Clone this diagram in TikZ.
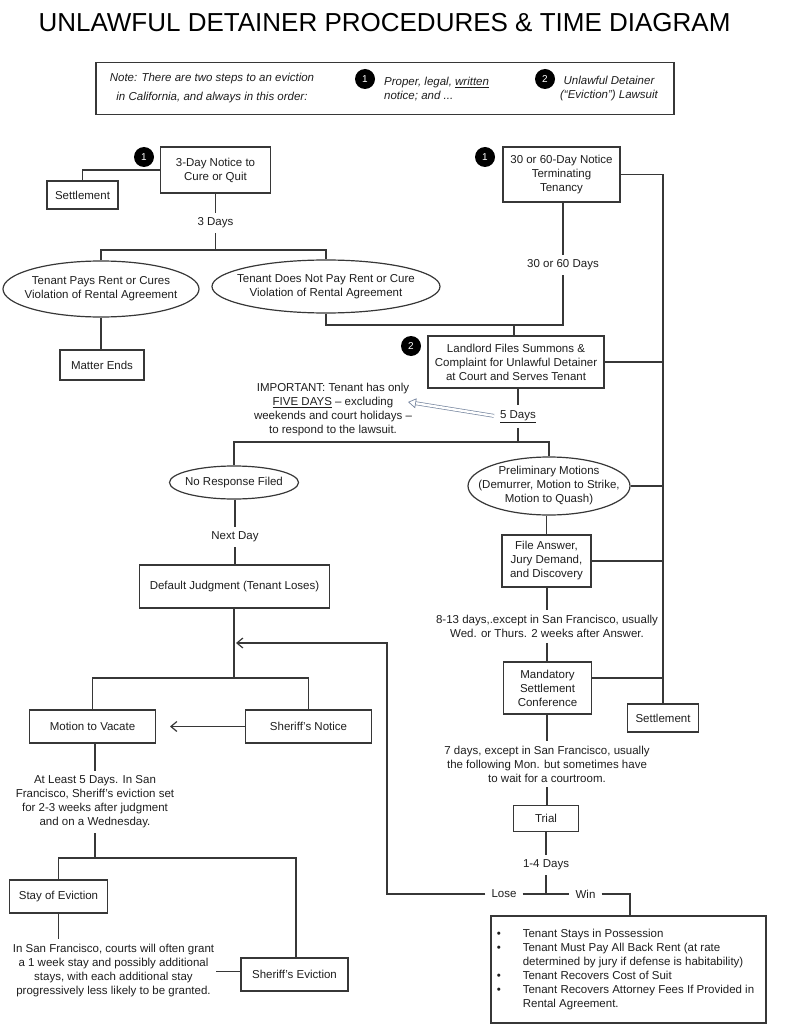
\documentclass[tikz,border=0pt]{standalone}
\usepackage{fontspec}
\setmainfont{Liberation Sans}
\usetikzlibrary{shapes.geometric,arrows.meta}
\definecolor{lin}{RGB}{55,55,55}
\definecolor{txt}{RGB}{30,30,30}
\definecolor{hol}{RGB}{120,135,160}
\newcommand{\itm}{\hspace*{-3pt}\textbullet}
\tikzset{
  base/.style={font=\fontsize{11.5}{14}\selectfont,text=txt,align=center,inner sep=0pt},
  rec/.style={base,draw=lin,line width=1.2pt},
  oval/.style={base,draw=lin,line width=1.2pt,ellipse,inner xsep=-40pt,inner ysep=-20pt},
  lab/.style={base,inner xsep=2pt,inner ysep=5pt,yshift=-1pt},
  num/.style={circle,fill=black,text=white,inner sep=0pt,minimum size=20pt,font=\fontsize{10}{12}\selectfont},
  note/.style={base,font=\fontsize{11.5}{14}\selectfont\itshape,yshift=-1pt},
  lin/.style={draw=lin,line width=1.2pt},
  barb/.style={lin,-{Straight Barb[length=6pt,width=10pt]}}
}
\begin{document}
\begin{tikzpicture}[x=1pt,y=-1pt]
\useasboundingbox (0,0) rectangle (786,1024);

\node[font=\fontsize{26}{30}\selectfont,text=black,inner sep=0pt] (title) at (384.5,23) {UNLAWFUL DETAINER PROCEDURES \& TIME DIAGRAM};

\node[rec,minimum width=578pt,minimum height=52pt] (notebox) at (385,88.5) {};
\node[note] (note1) at (212,78) {Note: There are two steps to an eviction};
\node[note] (note2) at (212,97) {in California, and always in this order:};
\node[num] (key1) at (365,79) {1};
\node[note,align=left,anchor=west] (keytext1) at (384,88) {Proper, legal, \underline{written}\\notice; and ...};
\node[num] (key2) at (545,79) {2};
\node[note] (keytext2) at (609,88) {Unlawful Detainer\\(“Eviction”) Lawsuit};

\node[rec,minimum width=110pt,minimum height=46pt] (threeday) at (215.5,170) {3-Day Notice to\\Cure or Quit};
\node[num] (one1) at (144,157) {1};
\node[rec,minimum width=71pt,minimum height=28pt] (settle1) at (82.5,195) {Settlement};
\node[lab] (threedays) at (215.5,222) {3 Days};
\coordinate (split1) at (215.5,250);
\node[oval,minimum width=196pt,minimum height=56pt] (pays) at (101,289) {Tenant Pays Rent or Cures\\Violation of Rental Agreement};
\node[oval,minimum width=228pt,minimum height=53pt] (notpay) at (326,286.5) {Tenant Does Not Pay Rent or Cure\\Violation of Rental Agreement};
\node[rec,minimum width=84pt,minimum height=30pt] (ends) at (102,365) {Matter Ends};

\node[rec,minimum width=117pt,minimum height=55pt] (thirty) at (561.5,174.5) {30 or 60-Day Notice\\Terminating\\Tenancy};
\node[num] (one2) at (485,157) {1};
\node[lab] (thirtydays) at (563,264) {30 or 60 Days};
\coordinate (join1) at (514,325);

\node[rec,minimum width=176pt,minimum height=52pt] (files) at (516,362) {Landlord Files Summons \&\\Complaint for Unlawful Detainer\\at Court and Serves Tenant};
\node[num] (two) at (411,346) {2};
\node[lab] (fivedays) at (518,415.5) {\underline{5 Days}};
\node[base,yshift=-1pt] (important) at (333,409) {IMPORTANT: Tenant has only\\\underline{FIVE DAYS} – excluding\\weekends and court holidays –\\to respond to the lawsuit.};
\coordinate (tip) at (408,402);
\coordinate (split2) at (518,442);

\node[oval,minimum width=129pt,minimum height=33pt] (noresp) at (234,482.5) {No Response Filed};
\node[oval,minimum width=162pt,minimum height=58pt] (prelim) at (549,486) {Preliminary Motions\\(Demurrer, Motion to Strike,\\Motion to Quash)};
\node[lab] (nextday) at (235,536) {Next Day};
\node[rec,minimum width=190pt,minimum height=43pt] (default) at (234.5,586.5) {Default Judgment (Tenant Loses)};
\node[rec,minimum width=89pt,minimum height=52pt] (answer) at (546.5,561) {File Answer,\\Jury Demand,\\and Discovery};
\node[lab] (eight) at (547,625.5) {8-13 days,.except in San Francisco, usually\\Wed. or Thurs. 2 weeks after Answer.};
\node[rec,minimum width=88pt,minimum height=52pt] (msc) at (547.5,688) {Mandatory\\Settlement\\Conference};
\node[rec,minimum width=71pt,minimum height=28pt] (settle2) at (663,718) {Settlement};
\node[lab] (seven) at (547,763) {7 days, except in San Francisco, usually\\the following Mon. but sometimes have\\to wait for a courtroom.};
\node[rec,minimum width=65pt,minimum height=26pt] (trial) at (546,818.5) {Trial};
\node[lab] (oneto) at (546,864) {1-4 Days};
\coordinate (split3) at (546,893);
\node[lab,inner xsep=6pt] (lose) at (504,893) {Lose};
\node[lab,inner xsep=6pt] (win) at (585.5,893) {Win};
\node[rec,minimum width=275pt,minimum height=107pt] (result) at (628.5,969.5) {\hspace*{-3pt}\begin{tabular}{@{}p{23pt}@{}l@{}}
\itm & Tenant Stays in Possession\\
\itm & Tenant Must Pay All Back Rent (at rate\\
 & determined by jury if defense is habitability)\\
\itm & Tenant Recovers Cost of Suit\\
\itm & Tenant Recovers Attorney Fees If Provided in\\
 & Rental Agreement.
\end{tabular}};

\coordinate (split4) at (234,678);
\node[rec,minimum width=125.5pt,minimum height=33pt] (vacate) at (92.5,726.5) {Motion to Vacate};
\node[rec,minimum width=125.5pt,minimum height=33pt] (notice) at (308.5,726.5) {Sheriff’s Notice};
\node[lab] (atleast) at (95,801) {At Least 5 Days. In San\\Francisco, Sheriff’s eviction set\\for 2-3 weeks after judgment\\and on a Wednesday.};
\coordinate (split5) at (95,858);
\node[rec,minimum width=97.5pt,minimum height=33pt] (stay) at (58.5,896.5) {Stay of Eviction};
\node[lab] (often) at (113.5,970) {In San Francisco, courts will often grant\\a 1 week stay and possibly additional\\stays, with each additional stay\\progressively less likely to be granted.};
\node[rec,minimum width=107pt,minimum height=33pt] (eviction) at (294.5,974.5) {Sheriff’s Eviction};

\begin{scope}[lin]
\draw (threeday.west) -| (settle1.north);
\draw (threeday.south -| threedays) -- (threedays) -- (split1);
\draw (pays.north) |- (split1) -| (notpay.north);
\draw (pays.south) -- (pays.south |- ends.north);
\draw (notpay.south) |- (join1) -| (thirtydays);
\draw (thirty.south -| thirtydays) -- (thirtydays);
\draw (join1) -- (join1 |- files.north);
\draw (thirty.east) -| (settle2.north);
\draw (files.east) -- (files.east -| settle2);
\draw (files.south -| fivedays) -- (fivedays) -- (split2);
\draw (noresp.north) |- (split2) -| (prelim.north);
\draw (noresp.south -| nextday) -- (nextday) -- (default.north -| nextday);
\draw (prelim.east) -- (prelim.east -| settle2);
\draw (prelim.south -| answer) -- (answer.north);
\draw (answer.east) -- (answer.east -| settle2);
\draw (answer.south -| eight) -- (eight) -- (msc.north -| eight);
\draw (msc.east |- 0,678) -- (settle2 |- 0,678);
\draw (msc.south -| seven) -- (seven) -- (trial.north -| seven);
\draw (trial) -- (oneto) -- (split3);
\draw (lose) -- (win);
\draw (win.east) -| (result.north -| 630,0);
\draw (default.south -| split4) -- (split4);
\draw (vacate.north) |- (split4) -| (notice.north);
\draw (vacate.south -| atleast) -- (atleast) -- (split5);
\draw (stay.north) |- (split5) -| (eviction.north -| 296,0);
\draw (stay) -- (stay |- often.north);
\draw (often.east |- 0,971.5) -- (eviction.west |- 0,971.5);
\end{scope}
\draw[barb] (lose.west) -| (387,643) -- (236,643);
\draw[barb] (notice.west) -- (170,726.5);
\draw[draw=hol,line width=0.7pt,double=white,double distance=2.4pt,shorten <=4pt,-{Triangle[open,fill=white,length=8pt,width=10pt]}] (fivedays.west) -- (tip);
\end{tikzpicture}
\end{document}
